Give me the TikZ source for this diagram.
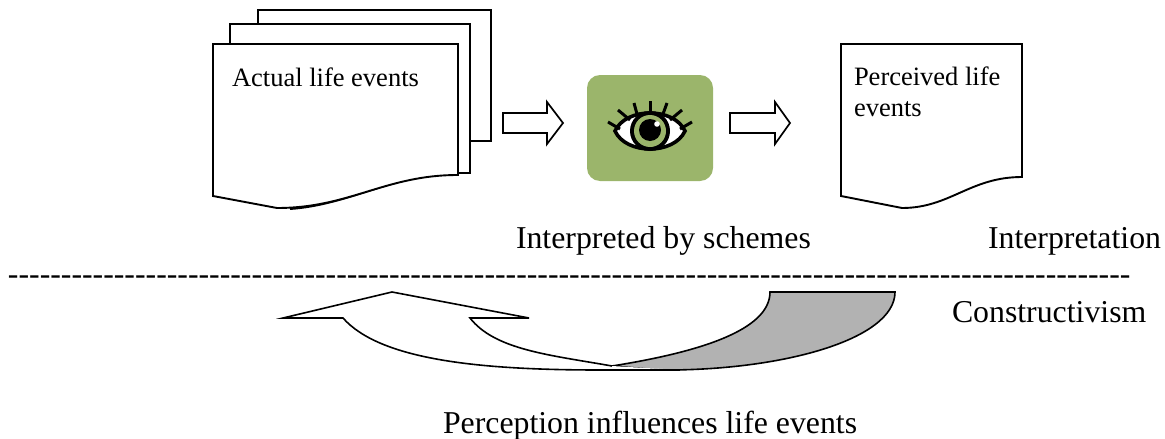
\documentclass[tikz,border=0pt]{standalone}
\usepackage{fontspec}
\setmainfont{Liberation Serif}
\newfontfamily\dashfont{Liberation Serif}
\definecolor{schemegreen}{HTML}{9BB56B}
\definecolor{arrowgray}{HTML}{B2B2B2}
\tikzset{
  sheet/.style={draw=black,fill=white,line width=1.9pt,line join=miter},
  blockarrow/.style={draw=black,fill=white,line width=1.7pt,line join=miter},
  bigtext/.style={font=\fontsize{31.8}{36}\selectfont,inner sep=0pt,outer sep=0pt},
  smalltext/.style={font=\fontsize{26.5}{30}\selectfont,inner sep=0pt,outer sep=0pt},
}
\begin{document}
\begin{tikzpicture}[x=1pt,y=-1pt]
\useasboundingbox (0,0) rectangle (1165,439);
% actual life events
\path[sheet] (258,44) -- (258,10) -- (491,10) -- (491,141) -- (470,141);
\path[sheet] (230,44) -- (230,24) -- (470,24) -- (470,173) -- (458,173);
\path[sheet] (290,209) .. controls (350,205) and (395,173) .. (458,174);
\path[sheet] (213,44) -- (458,44) -- (458,175)
  .. controls (385,175) and (350,208) .. (277,208) -- (213,196) -- cycle;
\path (232,77) node[right,smalltext] (actual) {Actual life events};
% block arrows
\path[blockarrow] (503,113) -- (547,113) -- (547,102) -- (563,123) -- (547,144)
  -- (547,133) -- (503,133) -- cycle;
\path[blockarrow] (730,113) -- (775,113) -- (775,102) -- (790,123) -- (775,144)
  -- (775,133) -- (730,133) -- cycle;
% eye
\path[fill=schemegreen,rounded corners=13pt] (587,75) rectangle (713,181);
\path[draw=black,fill=white,line width=3.6pt] (615,131)
  .. controls (626,107) and (674,107) .. (685,131)
  .. controls (674,155) and (626,155) .. (615,131) -- cycle;
\foreach \ax/\ay/\bx/\by in {608/122/620/129,618/110/630/120,634/103/637/114,650/101/650/112,
    667/103/663/114,682/110/670/120,692/122/680/129}
  \path[draw=black,line width=3pt] (\ax,\ay) -- (\bx,\by);
\path[fill=black] (650,131) circle (20pt);
\path[fill=schemegreen] (650,131) circle (16pt);
\path[fill=black] (650,130) circle (11pt);
\path[fill=white] (657,124) circle (2.8pt);
% perceived life events
\path[sheet] (841,44) -- (1022,44) -- (1022,177)
  .. controls (970,177) and (950,208) .. (902,208) -- (841,196) -- cycle;
\path (854,76) node[right,smalltext] (perceivedA) {Perceived life};
\path (854,109) node[right,smalltext] (perceivedB) {events};
% labels
\path (516,241) node[right,bigtext] (schemes) {Interpreted by schemes};
\path (988,241) node[right,bigtext] (interpretation) {Interpretation};
\path (8,280) node[right,bigtext] (divider)
  {\dashfont ----------------------------------------------------------------------------------------------------------};
\path (952,312) node[right,bigtext] (constructivism) {Constructivism};
\path (443,426) node[right,bigtext] (influence) {Perception influences life events};
% curved arrow
\path[fill=arrowgray,draw=black,line width=1.6pt] (770,292) -- (895,292)
  .. controls (895,340) and (780,371) .. (660,370) -- (612,366)
  .. controls (700,352) and (770,330) .. (770,292) -- cycle;
\path[draw=black,fill=white,line width=1.6pt,line join=miter] (612,366)
  .. controls (550,355) and (495,350) .. (470,318) -- (529,318) -- (392,292)
  -- (283,318) -- (343,318) .. controls (380,360) and (480,370) .. (600,370)
  -- (680,370);
\end{tikzpicture}
\end{document}
